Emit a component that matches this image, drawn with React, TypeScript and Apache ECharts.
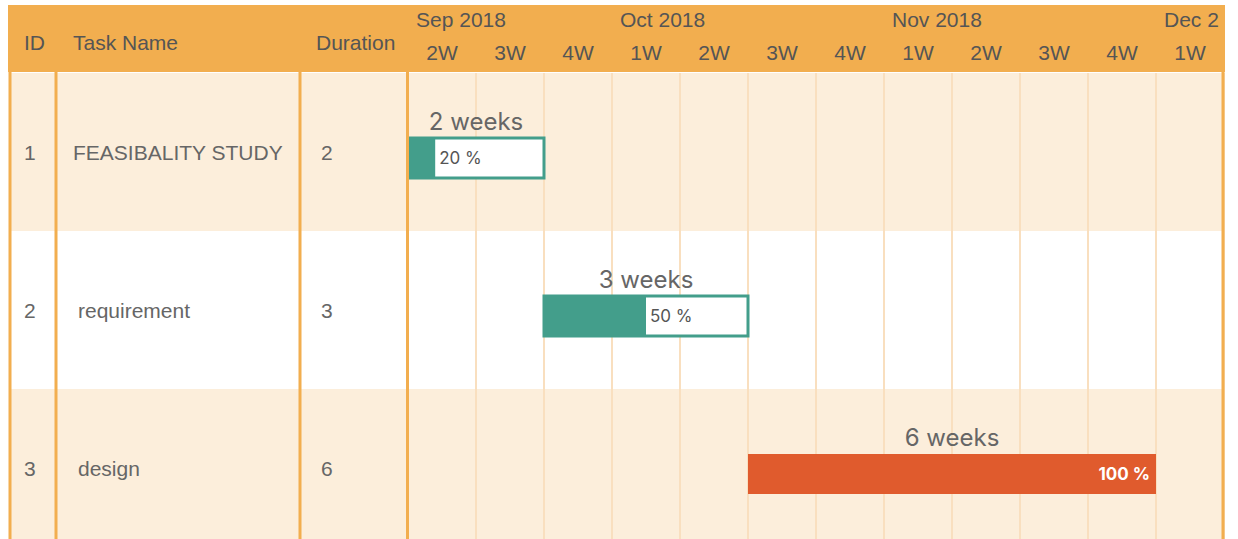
import React, { useEffect, useRef } from "react";
import * as echarts from "echarts";

// ---- data ----
const taskIds = ["1", "2", "3"];
const taskNames = ["FEASIBALITY STUDY", "requirement", "design"];
const durations = [2, 3, 6];
const startWeeks = [0, 2, 5];
const progress = [20, 50, 100];
const barColors = ["#439E8B", "#439E8B", "#E05B2D"];
const weekLabels = ["2W", "3W", "4W", "1W", "2W", "3W", "4W", "1W", "2W", "3W", "4W", "1W"];
const monthLabels = ["Sep 2018", "Oct 2018", "Nov 2018", "Dec 2018"];
const monthStartWeeks = [0, 3, 7, 11];
const headerTitles = ["ID", "Task Name", "Duration"];

const ORANGE = "#F2AE4F";
const LIGHT = "#FCEEDB";
const TXT = "Liberation Sans, Arial, sans-serif";
const TXT2 = "Inter, DejaVu Sans, sans-serif";

export default function App() {
  const ref = useRef<HTMLDivElement>(null);
  useEffect(() => {
    if (!ref.current) return;
    const chart = echarts.init(ref.current, undefined, { renderer: "svg" });

    const barData = taskIds.map((_, i) => [i, startWeeks[i], durations[i], progress[i]]);
    const tableData = taskIds.map((_, i) => [0, i]);

    const renderBar = (params: any, api: any) => {
      const idx = api.value(0);
      const s = api.value(1);
      const d = api.value(2);
      const p = api.value(3);
      const a = api.coord([s, idx]);
      const b = api.coord([s + d, idx]);
      const h = 40;
      const yc = a[1] + 6;
      const w = b[0] - a[0];
      const color = barColors[idx];
      const full = p >= 100;
      const children: any[] = [
        {
          type: "rect",
          shape: { x: a[0], y: yc - h / 2, width: w, height: h },
          style: { fill: full ? color : "#ffffff", stroke: color, lineWidth: full ? 0 : 3 },
        },
        {
          type: "rect",
          shape: { x: a[0], y: yc - h / 2, width: (w * p) / 100, height: h },
          style: { fill: color },
        },
        {
          type: "text",
          x: full ? b[0] - 6 : a[0] + (w * p) / 100 + 4,
          y: yc,
          style: {
            text: p + " %",
            fill: full ? "#ffffff" : "#555555",
            fontSize: 17,
            fontWeight: full ? "bold" : "normal",
            fontFamily: TXT2,
            align: full ? "right" : "left",
            verticalAlign: "middle",
          },
        },
        {
          type: "text",
          x: a[0] + w / 2,
          y: yc - h / 2 - 17,
          style: {
            text: d + " weeks",
            fill: "#666666",
            fontSize: 24,
            fontFamily: TXT2,
            align: "center",
            verticalAlign: "middle",
          },
        },
      ];
      return { type: "group", children };
    };

    const renderTable = (params: any, api: any) => {
      const i = api.value(1);
      const c = api.coord([0, i]);
      const x0 = params.coordSys.x;
      const st = (t: string) => ({
        text: t,
        fill: "#666666",
        fontSize: 21,
        fontFamily: TXT,
        verticalAlign: "middle",
      });
      return {
        type: "group",
        children: [
          { type: "text", x: x0 + 14, y: c[1], style: st(taskIds[i]) },
          { type: "text", x: x0 + 63 + (i > 0 ? 5 : 0), y: c[1], style: st(taskNames[i]) },
          { type: "text", x: x0 + 311, y: c[1], style: st(String(durations[i])) },
        ],
      };
    };

    const monthFor = (v: number) => {
      const k = monthStartWeeks.indexOf(v);
      return k >= 0 ? monthLabels[k] : "";
    };

    const hidden = { axisLine: { show: false }, axisTick: { show: false } };
    const borderXs = [10, 56, 300, 407.5, 1223];

    const option: any = {
      animation: false,
      backgroundColor: "#ffffff",
      grid: [
        { left: 408, top: 73, width: 816, height: 474, outerBoundsMode: "none", containLabel: false },
        { left: 10, top: 73, width: 397, height: 474, outerBoundsMode: "none", containLabel: false },
      ],
      xAxis: [
        {
          type: "value", gridIndex: 0, min: 0, max: 12, interval: 1, position: "top",
          ...hidden, axisLabel: { show: false },
          splitLine: { show: true, lineStyle: { color: "#F9DFBF", width: 2 } },
        },
        {
          type: "category", gridIndex: 0, data: weekLabels, position: "top", boundaryGap: true,
          ...hidden, splitLine: { show: false },
          axisLabel: { interval: 0, margin: 10, fontSize: 21, color: "#555555", fontFamily: TXT },
        },
        {
          type: "value", gridIndex: 0, min: 0, max: 12, interval: 1, position: "top",
          ...hidden, splitLine: { show: false },
          axisLabel: {
            formatter: (v: number) => monthFor(v), align: "left", padding: [0, 0, 0, 8],
            margin: 43, fontSize: 21, color: "#555555", fontFamily: TXT,
            showMinLabel: true, showMaxLabel: true, hideOverlap: false,
          },
        },
        { type: "value", gridIndex: 1, min: 0, max: 1, show: false },
      ],
      yAxis: [
        {
          type: "category", gridIndex: 0, data: taskIds, inverse: true,
          ...hidden, axisLabel: { show: false }, splitLine: { show: false },
          splitArea: { show: true, interval: 0, areaStyle: { color: [LIGHT, "#ffffff"] } },
        },
        {
          type: "category", gridIndex: 1, data: taskIds, inverse: true,
          ...hidden, axisLabel: { show: false }, splitLine: { show: false },
          splitArea: { show: true, interval: 0, areaStyle: { color: [LIGHT, "#ffffff"] } },
        },
      ],
      series: [
        {
          type: "custom", xAxisIndex: 0, yAxisIndex: 0, renderItem: renderBar,
          data: barData, encode: { x: [1, 2], y: 0 }, clip: false, z: 5,
        },
        {
          type: "custom", xAxisIndex: 3, yAxisIndex: 1, renderItem: renderTable,
          data: tableData, encode: { x: 0, y: 1 }, z: 5,
        },
      ],
      graphic: [
        { type: "rect", z: -10, shape: { x: 8, y: 5, width: 1217, height: 67 }, style: { fill: ORANGE } },
        ...headerTitles.map((t, i) => ({
          type: "text", z: 10, x: [24, 73, 316][i], y: 42,
          style: { text: t, fill: "#555555", fontSize: 21, fontFamily: TXT, verticalAlign: "middle" },
        })),
        ...borderXs.map((x) => ({
          type: "line", z: 50, shape: { x1: x, y1: 72, x2: x, y2: 539 },
          style: { stroke: ORANGE, lineWidth: 3 },
        })),
        { type: "rect", z: 100, shape: { x: 1219, y: 5, width: 6, height: 67 }, style: { fill: ORANGE } },
        { type: "rect", z: 100, shape: { x: 1225, y: 0, width: 13, height: 72 }, style: { fill: "#ffffff" } },
      ],
    };
    chart.setOption(option);
    return () => chart.dispose();
  }, []);
  return (
    <div
      ref={ref}
      style={{ position: "fixed", left: 0, top: 0, width: 1238, height: 539, background: "#fff" }}
    />
  );
}
